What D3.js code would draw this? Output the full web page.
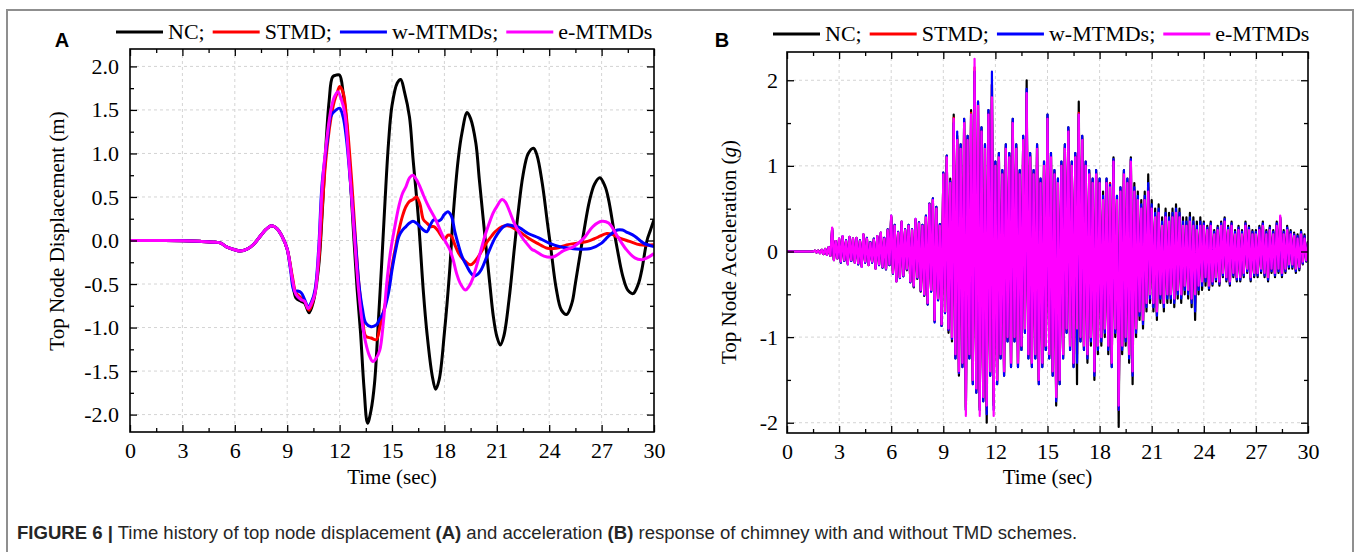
<!DOCTYPE html>
<html>
<head>
<meta charset="utf-8">
<script src="https://cdn.jsdelivr.net/npm/d3@7"></script>
<style>
	body { margin: 0; background: #fff; }
	svg text { font-family: "Liberation Serif", "Times New Roman", serif; }
</style>
</head>
<body>
<svg id="fig" width="1358" height="552"></svg>
<script>
const seriesNames = ["NC;", "STMD;", "w-MTMDs;", "e-MTMDs"];
const seriesColors = ["#000000", "#ff0000", "#0000ff", "#ff00ff"];

const timeTicks = [0, 3, 6, 9, 12, 15, 18, 21, 24, 27, 30];
const dispTicks = [-2.0, -1.5, -1.0, -0.5, 0.0, 0.5, 1.0, 1.5, 2.0];
const accTicks = [-2, -1, 0, 1, 2];

// Panel A: top node displacement (m), [time, value]
const sharedStartA = [[0, 0], [2, 0], [4, -0.01], [4.9, -0.02], [5.2, -0.03], [5.5, -0.07], [5.9, -0.1], [6.3, -0.12], [6.7, -0.1], [7.1, -0.04], [7.5, 0.06], [7.8, 0.13], [8.1, 0.17], [8.4, 0.14], [8.7, 0.05], [9.0, -0.1]];

const ncDisp = sharedStartA.concat([[9.3, -0.45], [9.5, -0.66], [9.8, -0.7], [10.0, -0.72], [10.25, -0.83], [10.5, -0.7], [10.8, -0.3], [11.0, 0.3], [11.2, 1.04], [11.4, 1.6], [11.6, 1.88], [11.8, 1.9], [12.0, 1.9], [12.2, 1.7], [12.4, 1.35], [12.6, 0.75], [12.8, 0.08], [13.0, -0.55], [13.2, -1.06], [13.4, -1.7], [13.6, -2.1], [13.8, -1.95], [14.0, -1.64], [14.2, -1.0], [14.4, -0.3], [14.6, 0.45], [14.8, 1.12], [15.0, 1.55], [15.3, 1.81], [15.5, 1.85], [15.7, 1.72], [16.0, 1.42], [16.2, 0.95], [16.5, 0.28], [16.8, -0.6], [17.0, -1.06], [17.3, -1.55], [17.5, -1.71], [17.7, -1.6], [18.0, -1.06], [18.3, -0.35], [18.5, 0.28], [18.8, 0.95], [19.0, 1.23], [19.3, 1.47], [19.5, 1.4], [19.8, 1.12], [20.0, 0.7], [20.3, 0.09], [20.6, -0.5], [20.8, -0.87], [21.0, -1.1], [21.2, -1.2], [21.4, -1.1], [21.7, -0.68], [22.0, -0.1], [22.2, 0.28], [22.5, 0.75], [22.8, 1.0], [23.1, 1.06], [23.3, 0.98], [23.6, 0.66], [23.9, 0.2], [24.1, -0.1], [24.4, -0.55], [24.7, -0.8], [25.0, -0.85], [25.3, -0.72], [25.5, -0.49], [25.8, -0.12], [26.0, 0.12], [26.3, 0.45], [26.6, 0.65], [26.9, 0.72], [27.2, 0.62], [27.4, 0.47], [27.7, 0.12], [27.9, -0.1], [28.2, -0.4], [28.5, -0.57], [28.8, -0.61], [29.1, -0.5], [29.3, -0.34], [29.6, 0.0], [29.8, 0.12], [30, 0.24]]);

const stmdDisp = sharedStartA.concat([[9.3, -0.42], [9.5, -0.6], [9.8, -0.66], [10.0, -0.7], [10.25, -0.8], [10.5, -0.68], [10.8, -0.25], [11.0, 0.35], [11.2, 0.9], [11.5, 1.4], [11.7, 1.6], [11.9, 1.72], [12.0, 1.77], [12.2, 1.7], [12.4, 1.4], [12.7, 0.66], [12.9, 0.05], [13.1, -0.49], [13.3, -0.85], [13.5, -1.1], [13.8, -1.12], [14.1, -1.14], [14.3, -1.0], [14.5, -0.83], [14.8, -0.55], [15.0, -0.3], [15.2, -0.08], [15.4, 0.12], [15.6, 0.28], [15.8, 0.39], [16.0, 0.45], [16.2, 0.47], [16.4, 0.5], [16.6, 0.42], [16.8, 0.24], [17.0, 0.2], [17.2, 0.16], [17.4, 0.16], [17.6, 0.12], [17.8, 0.06], [18.0, 0.01], [18.2, 0.06], [18.4, 0.05], [18.6, -0.05], [18.8, -0.14], [19.0, -0.2], [19.2, -0.24], [19.5, -0.28], [19.7, -0.25], [19.9, -0.2], [20.2, -0.1], [20.4, -0.03], [20.7, 0.05], [20.9, 0.1], [21.3, 0.16], [21.6, 0.17], [21.8, 0.16], [22.3, 0.1], [22.8, 0.03], [23.3, -0.03], [23.9, -0.09], [24.4, -0.09], [25.0, -0.05], [25.6, -0.03], [26.2, -0.01], [26.8, 0.04], [27.3, 0.08], [27.6, 0.07], [28.0, 0.03], [28.6, -0.01], [29.2, -0.05], [30, -0.05]]);

const wDisp = sharedStartA.concat([[9.2, -0.35], [9.4, -0.58], [9.6, -0.58], [9.8, -0.6], [10.0, -0.68], [10.2, -0.76], [10.4, -0.7], [10.6, -0.56], [10.8, -0.1], [11.0, 0.66], [11.3, 1.15], [11.5, 1.43], [11.8, 1.5], [12.0, 1.52], [12.2, 1.42], [12.4, 1.15], [12.7, 0.47], [12.9, 0.0], [13.1, -0.49], [13.3, -0.78], [13.5, -0.95], [13.8, -0.99], [14.1, -0.97], [14.3, -0.9], [14.5, -0.83], [14.8, -0.6], [15.0, -0.34], [15.2, -0.12], [15.4, 0.05], [15.6, 0.12], [15.8, 0.16], [16.0, 0.2], [16.2, 0.22], [16.4, 0.2], [16.6, 0.16], [16.8, 0.12], [17.0, 0.1], [17.2, 0.18], [17.4, 0.24], [17.6, 0.22], [17.8, 0.24], [18.0, 0.3], [18.2, 0.33], [18.4, 0.28], [18.6, 0.1], [18.8, -0.05], [19.0, -0.18], [19.3, -0.3], [19.5, -0.37], [19.7, -0.41], [19.9, -0.39], [20.1, -0.34], [20.4, -0.2], [20.6, -0.1], [20.9, 0.03], [21.2, 0.12], [21.4, 0.16], [21.6, 0.18], [21.9, 0.17], [22.2, 0.16], [22.5, 0.12], [22.8, 0.08], [23.4, 0.03], [24.0, -0.03], [24.6, -0.07], [25.2, -0.09], [25.8, -0.1], [26.4, -0.09], [27.0, -0.03], [27.4, 0.05], [27.9, 0.12], [28.2, 0.12], [28.4, 0.1], [28.9, 0.05], [29.4, -0.03], [30, -0.07]]);

const eDisp = sharedStartA.concat([[9.3, -0.45], [9.5, -0.62], [9.8, -0.68], [10.0, -0.7], [10.2, -0.78], [10.4, -0.72], [10.6, -0.6], [10.8, -0.15], [11.0, 0.6], [11.2, 1.05], [11.5, 1.5], [11.7, 1.65], [11.9, 1.71], [12.1, 1.62], [12.3, 1.46], [12.5, 1.0], [12.7, 0.47], [12.9, -0.1], [13.1, -0.6], [13.3, -0.95], [13.5, -1.18], [13.7, -1.32], [13.9, -1.39], [14.1, -1.35], [14.3, -1.26], [14.5, -0.95], [14.7, -0.49], [14.9, -0.15], [15.1, 0.09], [15.4, 0.4], [15.6, 0.54], [15.8, 0.62], [16.0, 0.72], [16.2, 0.75], [16.4, 0.7], [16.6, 0.62], [16.8, 0.52], [17.0, 0.43], [17.2, 0.35], [17.5, 0.24], [17.8, 0.1], [18.0, 0.01], [18.3, -0.1], [18.5, -0.22], [18.7, -0.38], [18.9, -0.49], [19.2, -0.57], [19.4, -0.53], [19.6, -0.45], [19.8, -0.32], [20.0, -0.18], [20.3, 0.04], [20.5, 0.16], [20.8, 0.32], [21.0, 0.39], [21.3, 0.47], [21.5, 0.44], [21.7, 0.35], [22.0, 0.2], [22.2, 0.12], [22.5, 0.02], [22.7, -0.03], [23.0, -0.1], [23.2, -0.12], [23.7, -0.18], [24.2, -0.19], [24.5, -0.16], [24.8, -0.12], [25.4, -0.07], [26.0, 0.03], [26.5, 0.16], [27.0, 0.22], [27.4, 0.2], [27.9, 0.05], [28.4, -0.1], [28.9, -0.2], [29.3, -0.22], [29.6, -0.2], [30, -0.15]]);

// Panel B: top node acceleration (g), sampled every 0.1 s (one row per second)
const accTime = d3.range(301).map((i) => i / 10);

const ncAcc = [
	0, 0, 0, 0, 0, 0, 0, 0, 0, 0,
	0, 0, 0, 0, 0, 0, 0.01, -0.01, 0.01, -0.02,
	0.02, -0.03, 0.03, -0.04, 0.05, -0.05, 0.25, -0.1, 0.12, -0.08,
	0.14, -0.13, 0.17, -0.11, 0.13, -0.14, 0.16, -0.11, 0.15, -0.12,
	0.15, -0.15, 0.13, -0.17, 0.19, -0.13, 0.16, -0.15, 0.11, -0.13,
	0.15, -0.19, 0.17, -0.16, 0.21, -0.19, 0.16, -0.21, 0.26, -0.16,
	0.4, -0.26, 0.31, -0.34, 0.23, -0.31, 0.34, -0.29, 0.26, -0.22,
	0.31, -0.36, 0.26, -0.42, 0.36, -0.32, 0.34, -0.47, 0.31, -0.52,
	0.42, -0.62, 0.56, -0.47, 0.62, -0.82, 0.52, -0.57, 0.32, -0.87,
	0.92, -0.72, 1.12, -0.95, 0.85, -1.05, 1.6, -1.25, 1.35, -1.45,
	1.25, -1.35, 1.55, -1.85, 1.35, -1.25, 1.65, -1.55, 2.1, -1.65,
	1.75, -1.85, 1.45, -1.75, 1.25, -2.0, 1.65, -1.45, 1.95, -1.8,
	1.05, -1.55, 1.15, -1.25, 0.95, -1.45, 1.25, -1.05, 1.15, -1.35,
	1.55, -1.05, 1.25, -1.35, 0.95, -1.15, 1.35, -0.95, 2.0, -1.25,
	1.15, -1.35, 0.95, -1.25, 1.25, -1.55, 0.85, -1.35, 1.05, -1.15,
	1.6, -1.25, 1.15, -1.45, 0.95, -1.8, 0.85, -1.55, 1.05, -1.25,
	1.25, -0.95, 1.45, -1.15, 1.05, -1.35, 1.15, -1.55, 1.75, -1.05,
	1.35, -1.15, 1.05, -1.3, 0.95, -1.1, 0.85, -1.5, 0.95, -1.2,
	0.85, -1.1, 0.7, -1.0, 0.85, -1.2, 0.8, -1.35, 1.1, -1.0,
	0.65, -2.05, 0.75, -1.2, 0.95, -1.1, 0.85, -1.3, 1.1, -1.55,
	0.8, -1.0, 0.7, -0.8, 0.6, -0.9, 0.7, -0.7, 0.9, -0.6,
	0.6, -0.7, 0.5, -0.8, 0.55, -0.6, 0.4, -0.7, 0.5, -0.6,
	0.45, -0.6, 0.5, -0.65, 0.55, -0.55, 0.5, -0.6, 0.4, -0.5,
	0.4, -0.55, 0.45, -0.65, 0.4, -0.8, 0.35, -0.5, 0.4, -0.45,
	0.35, -0.4, 0.3, -0.45, 0.35, -0.4, 0.25, -0.35, 0.3, -0.4,
	0.35, -0.3, 0.4, -0.35, 0.3, -0.4, 0.35, -0.3, 0.25, -0.35,
	0.3, -0.35, 0.25, -0.3, 0.35, -0.25, 0.3, -0.35, 0.25, -0.3,
	0.25, -0.3, 0.3, -0.25, 0.35, -0.3, 0.25, -0.35, 0.3, -0.25,
	0.25, -0.3, 0.35, -0.25, 0.38, -0.3, 0.25, -0.25, 0.3, -0.2,
	0.25, -0.2, 0.22, -0.25, 0.2, -0.22, 0.25, -0.15, 0.2, -0.12,
	0.12
];

const stmdAcc = [
	0, 0, 0, 0, 0, 0, 0, 0, 0, 0,
	0, 0, 0, 0, 0, 0, 0.01, -0.01, 0.01, -0.02,
	0.02, -0.03, 0.03, -0.04, 0.05, -0.05, 0.27, -0.1, 0.12, -0.08,
	0.15, -0.12, 0.17, -0.1, 0.12, -0.14, 0.17, -0.1, 0.15, -0.13,
	0.16, -0.14, 0.12, -0.17, 0.2, -0.12, 0.15, -0.16, 0.1, -0.12,
	0.14, -0.2, 0.18, -0.15, 0.22, -0.18, 0.15, -0.2, 0.25, -0.15,
	0.41, -0.25, 0.3, -0.35, 0.22, -0.3, 0.35, -0.28, 0.25, -0.21,
	0.3, -0.35, 0.25, -0.41, 0.37, -0.31, 0.33, -0.46, 0.3, -0.51,
	0.41, -0.61, 0.55, -0.46, 0.61, -0.81, 0.51, -0.56, 0.31, -0.86,
	0.91, -0.71, 1.11, -0.92, 0.82, -1.02, 1.56, -1.22, 1.32, -1.42,
	1.22, -1.32, 1.52, -1.82, 1.32, -1.22, 1.62, -1.52, 2.15, -1.62,
	1.72, -1.82, 1.42, -1.72, 1.22, -1.85, 1.62, -1.42, 1.95, -1.75,
	1.02, -1.52, 1.12, -1.22, 0.92, -1.42, 1.22, -1.02, 1.12, -1.32,
	1.52, -1.02, 1.22, -1.32, 0.92, -1.12, 1.32, -0.92, 1.82, -1.22,
	1.12, -1.32, 0.92, -1.22, 1.22, -1.52, 0.82, -1.32, 1.02, -1.12,
	1.56, -1.22, 1.12, -1.42, 0.92, -1.72, 0.82, -1.52, 1.02, -1.22,
	1.22, -0.92, 1.42, -1.12, 1.02, -1.32, 1.12, -1.2, 1.62, -1.02,
	1.32, -1.12, 1.02, -1.22, 0.92, -1.02, 0.82, -1.42, 0.92, -1.12,
	0.82, -1.02, 0.62, -0.92, 0.82, -1.12, 0.8, -1.32, 1.07, -0.92,
	0.62, -1.85, 0.72, -1.12, 0.92, -1.02, 0.82, -1.22, 1.07, -1.42,
	0.72, -0.92, 0.62, -0.72, 0.52, -0.82, 0.62, -0.62, 0.75, -0.52,
	0.52, -0.62, 0.42, -0.72, 0.47, -0.52, 0.32, -0.62, 0.42, -0.52,
	0.37, -0.52, 0.42, -0.57, 0.47, -0.47, 0.42, -0.52, 0.32, -0.42,
	0.32, -0.47, 0.37, -0.57, 0.32, -0.6, 0.27, -0.42, 0.32, -0.37,
	0.32, -0.32, 0.27, -0.42, 0.32, -0.37, 0.22, -0.32, 0.27, -0.37,
	0.32, -0.27, 0.37, -0.32, 0.27, -0.37, 0.32, -0.27, 0.22, -0.32,
	0.27, -0.32, 0.22, -0.27, 0.32, -0.22, 0.27, -0.32, 0.22, -0.27,
	0.22, -0.27, 0.27, -0.22, 0.32, -0.27, 0.22, -0.32, 0.27, -0.22,
	0.22, -0.27, 0.32, -0.22, 0.4, -0.27, 0.22, -0.22, 0.27, -0.17,
	0.22, -0.17, 0.2, -0.22, 0.17, -0.2, 0.22, -0.14, 0.17, -0.11,
	0.11
];

const wAcc = [
	0, 0, 0, 0, 0, 0, 0, 0, 0, 0,
	0, 0, 0, 0, 0, 0, 0.01, -0.01, 0.01, -0.02,
	0.02, -0.03, 0.03, -0.04, 0.05, -0.05, 0.27, -0.1, 0.12, -0.08,
	0.15, -0.13, 0.18, -0.11, 0.13, -0.15, 0.17, -0.11, 0.15, -0.13,
	0.16, -0.15, 0.13, -0.18, 0.2, -0.13, 0.16, -0.16, 0.11, -0.13,
	0.15, -0.2, 0.18, -0.16, 0.22, -0.19, 0.16, -0.21, 0.26, -0.16,
	0.42, -0.26, 0.31, -0.35, 0.23, -0.31, 0.35, -0.29, 0.26, -0.21,
	0.31, -0.36, 0.26, -0.41, 0.38, -0.31, 0.34, -0.46, 0.31, -0.51,
	0.42, -0.62, 0.56, -0.47, 0.62, -0.83, 0.52, -0.57, 0.32, -0.87,
	0.92, -0.72, 1.12, -0.92, 0.82, -1.02, 1.5, -1.25, 1.4, -1.42,
	1.25, -1.35, 1.55, -1.85, 1.35, -1.25, 1.6, -1.55, 2.1, -1.65,
	1.75, -1.85, 1.45, -1.75, 1.25, -1.9, 1.65, -1.45, 2.1, -1.85,
	1.05, -1.55, 1.15, -1.25, 0.95, -1.45, 1.25, -1.05, 1.15, -1.35,
	1.55, -1.05, 1.25, -1.35, 0.95, -1.15, 1.35, -0.95, 1.9, -1.25,
	1.15, -1.35, 0.95, -1.25, 1.25, -1.55, 0.85, -1.35, 1.05, -1.15,
	1.6, -1.25, 1.15, -1.45, 0.95, -1.75, 0.85, -1.55, 1.05, -1.25,
	1.25, -0.95, 1.45, -1.15, 1.05, -1.35, 1.15, -1.3, 1.6, -1.05,
	1.35, -1.15, 1.05, -1.25, 0.95, -1.05, 0.85, -1.45, 0.95, -1.15,
	0.85, -1.05, 0.65, -0.95, 0.85, -1.15, 0.78, -1.35, 1.08, -0.95,
	0.65, -1.85, 0.75, -1.15, 0.95, -1.05, 0.85, -1.25, 1.08, -1.45,
	0.75, -0.95, 0.65, -0.75, 0.55, -0.85, 0.65, -0.65, 0.8, -0.55,
	0.55, -0.65, 0.45, -0.75, 0.5, -0.55, 0.35, -0.65, 0.45, -0.55,
	0.4, -0.55, 0.45, -0.6, 0.5, -0.5, 0.45, -0.55, 0.35, -0.45,
	0.35, -0.5, 0.4, -0.6, 0.35, -0.7, 0.3, -0.45, 0.35, -0.4,
	0.33, -0.35, 0.28, -0.43, 0.33, -0.38, 0.23, -0.33, 0.28, -0.38,
	0.33, -0.28, 0.38, -0.33, 0.28, -0.38, 0.33, -0.28, 0.23, -0.33,
	0.28, -0.33, 0.23, -0.28, 0.33, -0.23, 0.28, -0.33, 0.23, -0.28,
	0.23, -0.28, 0.28, -0.23, 0.33, -0.28, 0.23, -0.33, 0.28, -0.23,
	0.23, -0.28, 0.33, -0.23, 0.4, -0.28, 0.23, -0.23, 0.28, -0.18,
	0.23, -0.18, 0.2, -0.23, 0.18, -0.2, 0.23, -0.14, 0.18, -0.11,
	0.11
];

const eAcc = [
	0, 0, 0, 0, 0, 0, 0, 0, 0, 0,
	0, 0, 0, 0, 0, 0, 0.01, -0.01, 0.01, -0.02,
	0.02, -0.03, 0.03, -0.04, 0.05, -0.05, 0.28, -0.1, 0.12, -0.08,
	0.15, -0.12, 0.18, -0.1, 0.12, -0.15, 0.17, -0.1, 0.15, -0.13,
	0.16, -0.14, 0.12, -0.18, 0.2, -0.12, 0.15, -0.16, 0.1, -0.12,
	0.14, -0.2, 0.18, -0.15, 0.22, -0.18, 0.15, -0.2, 0.25, -0.15,
	0.42, -0.25, 0.3, -0.35, 0.22, -0.3, 0.35, -0.28, 0.25, -0.2,
	0.3, -0.35, 0.25, -0.4, 0.38, -0.3, 0.33, -0.45, 0.3, -0.5,
	0.4, -0.6, 0.55, -0.45, 0.6, -0.8, 0.5, -0.55, 0.3, -0.85,
	0.9, -0.7, 1.1, -0.9, 0.8, -1.0, 1.55, -1.2, 1.3, -1.4,
	1.2, -1.3, 1.5, -1.92, 1.3, -1.2, 1.6, -1.5, 2.25, -1.6,
	1.7, -1.92, 1.4, -1.7, 1.2, -1.8, 1.6, -1.4, 1.8, -1.92,
	1.0, -1.5, 1.1, -1.2, 0.9, -1.4, 1.2, -1.0, 1.1, -1.3,
	1.5, -1.0, 1.2, -1.3, 0.9, -1.1, 1.3, -0.9, 1.85, -1.2,
	1.1, -1.3, 0.9, -1.2, 1.2, -1.5, 0.8, -1.3, 1.0, -1.1,
	1.55, -1.2, 1.1, -1.4, 0.9, -1.7, 0.8, -1.5, 1.0, -1.2,
	1.2, -0.9, 1.4, -1.1, 1.0, -1.3, 1.1, -0.9, 1.6, -1.0,
	1.3, -1.1, 1.0, -1.2, 0.9, -1.0, 0.8, -1.4, 0.9, -1.1,
	0.8, -1.0, 0.6, -0.9, 0.8, -1.1, 0.75, -1.3, 1.05, -0.9,
	0.6, -1.8, 0.7, -1.1, 0.9, -1.0, 0.8, -1.2, 1.05, -1.4,
	0.7, -0.9, 0.6, -0.7, 0.5, -0.8, 0.6, -0.6, 0.7, -0.5,
	0.5, -0.6, 0.4, -0.7, 0.45, -0.5, 0.3, -0.6, 0.4, -0.5,
	0.35, -0.5, 0.4, -0.55, 0.45, -0.45, 0.4, -0.5, 0.3, -0.4,
	0.3, -0.45, 0.35, -0.55, 0.3, -0.5, 0.25, -0.4, 0.3, -0.35,
	0.3, -0.3, 0.25, -0.4, 0.3, -0.35, 0.2, -0.3, 0.25, -0.35,
	0.3, -0.25, 0.35, -0.3, 0.25, -0.35, 0.3, -0.25, 0.2, -0.3,
	0.25, -0.3, 0.2, -0.25, 0.3, -0.2, 0.25, -0.3, 0.2, -0.25,
	0.2, -0.25, 0.25, -0.2, 0.3, -0.25, 0.2, -0.3, 0.25, -0.2,
	0.2, -0.25, 0.3, -0.2, 0.42, -0.25, 0.2, -0.2, 0.25, -0.15,
	0.2, -0.15, 0.18, -0.2, 0.15, -0.18, 0.2, -0.12, 0.15, -0.1,
	0.1
];

const svg = d3.select("svg#fig");

// outer figure frame
svg.append("rect")
	.attr("x", 7).attr("y", 10)
	.attr("width", 1346).attr("height", 570)
	.attr("fill", "none")
	.attr("stroke", "#8f8f8f")
	.attr("stroke-width", 2);

const panels = [
	{
		id: "A", left: 130, right: 654, top: 49, bottom: 432,
		yDomain: [-2.2, 2.2], yTicks: dispTicks, yFormat: (d) => d.toFixed(1),
		yTitle: ["Top Node Displacement (m)"], yTitleX: 57, yTitleY: 231, yPad: 11,
		letterX: 62, legendX: 116, legendY: 32, lineWidth: 3, curve: d3.curveCatmullRom,
		series: [ncDisp, stmdDisp, wDisp, eDisp]
	},
	{
		id: "B", left: 787, right: 1308, top: 52, bottom: 433,
		yDomain: [-2.12, 2.33], yTicks: accTicks, yFormat: (d) => String(d),
		yTitle: ["Top Node Acceleration (", "g", ")"], yTitleX: 729, yTitleY: 252, yPad: 9,
		letterX: 722, legendX: 773, legendY: 34, lineWidth: 2.2, curve: d3.curveLinear,
		series: [ncAcc, stmdAcc, wAcc, eAcc].map((vals) => vals.map((v, i) => [accTime[i], v]))
	}
];

const drawPanel = function (p) {
	const x = d3.scaleLinear([0, 30], [p.left, p.right]);
	const y = d3.scaleLinear(p.yDomain, [p.bottom, p.top]);
	const g = svg.append("g").attr("id", "panel-" + p.id);

	const yStep = p.yTicks[1] - p.yTicks[0];
	const yMinor = p.yTicks.slice(0, -1).map((d) => d + yStep / 2)
		.concat([p.yTicks[0] - yStep / 2, p.yTicks[p.yTicks.length - 1] + yStep / 2])
		.filter((d) => d > p.yDomain[0] && d < p.yDomain[1]);
	const xMinor = timeTicks.slice(0, -1).map((d) => d + 1.5);

	// dashed grid
	const grid = g.append("g").attr("stroke", "#d4d4d4").attr("stroke-dasharray", "3,3").attr("stroke-width", 1);
	grid.selectAll("line.gx")
		.data(timeTicks.filter((d) => d > 0 && d < 30))
		.join("line")
		.attr("class", "gx")
		.attr("x1", (d) => x(d)).attr("x2", (d) => x(d))
		.attr("y1", p.top).attr("y2", p.bottom);
	grid.selectAll("line.gy")
		.data(p.yTicks)
		.join("line")
		.attr("class", "gy")
		.attr("x1", p.left).attr("x2", p.right)
		.attr("y1", (d) => y(d)).attr("y2", (d) => y(d));

	// series
	const clipId = "clip-" + p.id;
	g.append("clipPath").attr("id", clipId)
		.append("rect")
		.attr("x", p.left).attr("y", p.top)
		.attr("width", p.right - p.left).attr("height", p.bottom - p.top);

	const line = d3.line()
		.x((d) => x(d[0]))
		.y((d) => y(d[1]))
		.curve(p.curve);

	g.append("g")
		.attr("clip-path", `url(#${clipId})`)
		.selectAll("path")
		.data(p.series)
		.join("path")
		.attr("d", line)
		.attr("fill", "none")
		.attr("stroke", (d, i) => seriesColors[i])
		.attr("stroke-width", p.lineWidth)
		.attr("stroke-linejoin", "round");

	// axes with inward ticks on all four sides
	const styleAxis = (sel) => {
		sel.select(".domain").remove();
		sel.selectAll("line").attr("stroke", "#000").attr("stroke-width", 1.3);
		sel.selectAll("text")
			.attr("font-family", "Liberation Serif, Times New Roman, serif")
			.attr("font-size", 22)
			.attr("fill", "#000");
	};

	g.append("g")
		.attr("transform", `translate(0,${p.bottom})`)
		.call(d3.axisBottom(x).tickValues(timeTicks).tickSizeInner(-7).tickSizeOuter(0).tickPadding(10).tickFormat(d3.format("d")))
		.call(styleAxis);
	g.append("g")
		.attr("transform", `translate(0,${p.bottom})`)
		.call(d3.axisBottom(x).tickValues(xMinor).tickSizeInner(-4).tickSizeOuter(0).tickFormat(""))
		.call(styleAxis);
	g.append("g")
		.attr("transform", `translate(0,${p.top})`)
		.call(d3.axisTop(x).tickValues(timeTicks).tickSizeInner(-7).tickSizeOuter(0).tickFormat(""))
		.call(styleAxis);
	g.append("g")
		.attr("transform", `translate(0,${p.top})`)
		.call(d3.axisTop(x).tickValues(xMinor).tickSizeInner(-4).tickSizeOuter(0).tickFormat(""))
		.call(styleAxis);

	g.append("g")
		.attr("transform", `translate(${p.left},0)`)
		.call(d3.axisLeft(y).tickValues(p.yTicks).tickSizeInner(-7).tickSizeOuter(0).tickPadding(p.yPad).tickFormat(p.yFormat))
		.call(styleAxis);
	g.append("g")
		.attr("transform", `translate(${p.left},0)`)
		.call(d3.axisLeft(y).tickValues(yMinor).tickSizeInner(-4).tickSizeOuter(0).tickFormat(""))
		.call(styleAxis);
	g.append("g")
		.attr("transform", `translate(${p.right},0)`)
		.call(d3.axisRight(y).tickValues(p.yTicks).tickSizeInner(-7).tickSizeOuter(0).tickFormat(""))
		.call(styleAxis);
	g.append("g")
		.attr("transform", `translate(${p.right},0)`)
		.call(d3.axisRight(y).tickValues(yMinor).tickSizeInner(-4).tickSizeOuter(0).tickFormat(""))
		.call(styleAxis);

	g.append("rect")
		.attr("x", p.left).attr("y", p.top)
		.attr("width", p.right - p.left).attr("height", p.bottom - p.top)
		.attr("fill", "none")
		.attr("stroke", "#000")
		.attr("stroke-width", 1.6);

	// titles
	g.append("text")
		.attr("x", (p.left + p.right) / 2)
		.attr("y", 484)
		.attr("text-anchor", "middle")
		.attr("font-size", 21)
		.text("Time (sec)");
	const yTitle = g.append("text")
		.attr("transform", `translate(${p.yTitleX},${p.yTitleY}) rotate(-90)`)
		.attr("text-anchor", "middle")
		.attr("dy", "0.35em")
		.attr("font-size", 21);
	p.yTitle.forEach((part, i) => {
		yTitle.append("tspan")
			.attr("font-style", i === 1 ? "italic" : "normal")
			.text(part);
	});

	g.append("text")
		.attr("x", p.letterX)
		.attr("y", 47)
		.attr("text-anchor", "middle")
		.style("font-family", "Liberation Sans, Arial, sans-serif")
		.attr("font-weight", "bold")
		.attr("font-size", 20)
		.text(p.id);

	// legend in one row
	let cursor = p.legendX;
	const legend = g.append("g").attr("class", "legend");
	seriesNames.forEach((name, i) => {
		legend.append("line")
			.attr("x1", cursor).attr("x2", cursor + 47)
			.attr("y1", p.legendY).attr("y2", p.legendY)
			.attr("stroke", seriesColors[i])
			.attr("stroke-width", 3);
		const label = legend.append("text")
			.attr("x", cursor + 52)
			.attr("y", p.legendY + 7)
			.attr("font-size", 22)
			.text(name);
		cursor += 52 + label.node().getComputedTextLength() + 8;
	});
};

panels.forEach(drawPanel);

// caption, squeezed to the narrow look of the original
const caption = svg.append("text")
	.attr("x", 0)
	.attr("y", 0)
	.style("font-family", "Liberation Sans, Arial, sans-serif")
	.attr("font-size", 19)
	.attr("fill", "#262626");
[
	["FIGURE 6 |", true],
	[" Time history of top node displacement ", false],
	["(A)", true],
	[" and acceleration ", false],
	["(B)", true],
	[" response of chimney with and without TMD schemes.", false]
].forEach(([t, bold]) => {
	caption.append("tspan")
		.attr("font-weight", bold ? "bold" : "normal")
		.text(t);
});
const capWidth = caption.node().getComputedTextLength();
caption.attr("transform", `translate(17,539) scale(${1061 / capWidth},1)`);
</script>
</body>
</html>
